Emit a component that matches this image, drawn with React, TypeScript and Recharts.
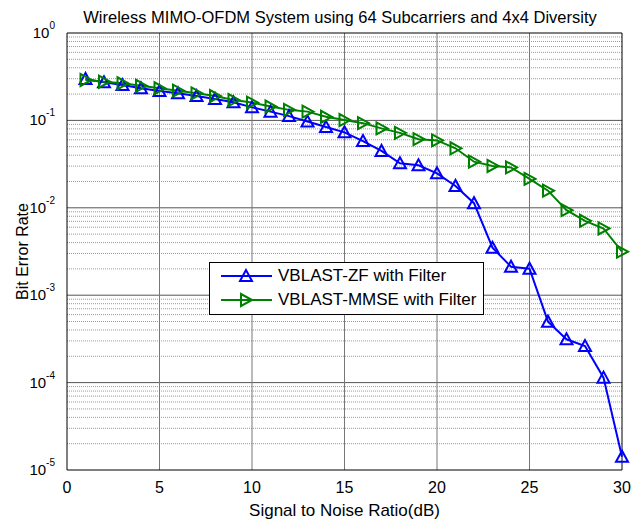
import { LineChart, Line, XAxis, YAxis, ReferenceLine } from "recharts"

const snr = [1, 2, 3, 4, 5, 6, 7, 8, 9, 10, 11, 12, 13, 14, 15, 16, 17, 18, 19, 20, 21, 22, 23, 24, 25, 26, 27, 28, 29, 30]

const zfBer = [
  0.298, 0.273, 0.254, 0.233, 0.217, 0.204, 0.19, 0.176, 0.161, 0.141,
  0.126, 0.112, 0.097, 0.084, 0.073, 0.058, 0.0447, 0.0323, 0.0306, 0.0248,
  0.0178, 0.0113, 0.00349, 0.00212, 0.00201, 0.000498, 0.000313, 0.000262, 0.000114, 0.0000142,
]

const mmseBer = [
  0.29, 0.277, 0.266, 0.249, 0.233, 0.219, 0.204, 0.19, 0.171, 0.16,
  0.144, 0.132, 0.126, 0.11, 0.101, 0.093, 0.081, 0.072, 0.061, 0.059,
  0.048, 0.0337, 0.0301, 0.029, 0.0214, 0.0157, 0.0094, 0.0071, 0.0058, 0.00315,
]

const xTicks = [0, 5, 10, 15, 20, 25, 30]
const yTicks = [1e-5, 1e-4, 1e-3, 1e-2, 1e-1, 1]
const xGrid = [5, 10, 15, 20, 25]
const yMajorGrid = [1e-4, 1e-3, 1e-2, 1e-1]
const yMinorGrid = [-5, -4, -3, -2, -1].flatMap((e) => [2, 3, 4, 5, 6, 7, 8, 9].map((m) => m * Math.pow(10, e)))

const data = snr.map((s, i) => ({ snr: s, zf: zfBer[i], mmse: mmseBer[i] }))

const FONT = "'Liberation Sans', Arial, sans-serif"

const TriUp = ({ cx, cy, color }: any) => (
  <polygon
    points={`${cx},${cy - 6} ${cx - 6},${cy + 5} ${cx + 6},${cy + 5}`}
    fill="none"
    stroke={color}
    strokeWidth={2}
  />
)

const TriRight = ({ cx, cy, color }: any) => (
  <polygon
    points={`${cx + 6},${cy} ${cx - 5},${cy - 6} ${cx - 5},${cy + 6}`}
    fill="none"
    stroke={color}
    strokeWidth={2}
  />
)

const PowTick = ({ x, y, payload }: any) => {
  const exp = Math.round(Math.log10(payload.value))
  return (
    <text x={x} y={y} textAnchor="end" fontFamily={FONT} fill="#000">
      <tspan fontSize={15} dy={5}>10</tspan>
      <tspan fontSize={10} dy={-9}>{exp}</tspan>
    </text>
  )
}

const legendItems = [
  { name: "VBLAST-ZF with Filter", color: "#0000ff", Mark: TriUp },
  { name: "VBLAST-MMSE with Filter", color: "#008000", Mark: TriRight },
]

export default function App() {
  return (
    <div style={{ position: "absolute", top: 0, left: 0, width: 632, height: 519, overflow: "hidden" }}>
      <div
        style={{
          position: "absolute",
          top: 8,
          left: 0,
          width: 632,
          textAlign: "center",
          fontFamily: FONT,
          fontSize: 16.5,
          paddingLeft: 48,
          boxSizing: "border-box",
          zIndex: 2,
        }}
      >
        Wireless MIMO-OFDM System using 64 Subcarriers and 4x4 Diversity
      </div>
      <LineChart
        width={632}
        height={519}
        data={data}
        margin={{ top: 33, right: 10, bottom: 19, left: 17 }}
      >
        {yMinorGrid.map((v) => (
          <ReferenceLine key={"m" + v} y={v} stroke="#999" strokeDasharray="1 1" />
        ))}
        {yMajorGrid.map((v) => (
          <ReferenceLine key={"M" + v} y={v} stroke="#555" />
        ))}
        {xGrid.map((v) => (
          <ReferenceLine key={"x" + v} x={v} stroke="#777" />
        ))}
        <ReferenceLine y={1} stroke="#000" />
        <ReferenceLine x={30} stroke="#000" />
        <XAxis
          dataKey="snr"
          type="number"
          domain={[0, 30]}
          ticks={xTicks}
          stroke="#000"
          tickLine={false}
          tick={{ fill: "#000", fontSize: 16, fontFamily: FONT }}
          tickMargin={6}
          height={30}
          label={{ value: "Signal to Noise Ratio(dB)", position: "insideBottom", offset: -16, fill: "#000", fontSize: 17, fontFamily: FONT }}
        />
        <YAxis
          scale="log"
          domain={[1e-5, 1]}
          ticks={yTicks}
          allowDataOverflow
          stroke="#000"
          tickLine={false}
          tick={<PowTick />}
          tickMargin={6}
          width={50}
          label={{ value: "Bit Error Rate", angle: -90, position: "insideLeft", offset: 5, fill: "#000", fontSize: 16, fontFamily: FONT, style: { textAnchor: "middle" } }}
        />
        <Line
          dataKey="zf"
          name="VBLAST-ZF with Filter"
          stroke="#0000ff"
          strokeWidth={2}
          dot={(p: any) => <TriUp key={"z" + p.index} cx={p.cx} cy={p.cy} color="#0000ff" />}
          isAnimationActive={false}
        />
        <Line
          dataKey="mmse"
          name="VBLAST-MMSE with Filter"
          stroke="#008000"
          strokeWidth={2}
          dot={(p: any) => <TriRight key={"g" + p.index} cx={p.cx} cy={p.cy} color="#008000" />}
          isAnimationActive={false}
        />
      </LineChart>
      <div
        style={{
          position: "absolute",
          left: 209,
          top: 262,
          width: 273,
          height: 51,
          border: "1px solid #000",
          background: "#fff",
          fontFamily: FONT,
          fontSize: 17,
        }}
      >
        {legendItems.map(({ name, color, Mark }, i) => (
          <div key={name} style={{ display: "flex", alignItems: "center", height: 24, marginTop: i === 0 ? 1 : 0 }}>
            <svg width={68} height={24}>
              <line x1={11} y1={12} x2={62} y2={12} stroke={color} strokeWidth={2} />
              <Mark cx={36} cy={12} color={color} />
            </svg>
            <span>{name}</span>
          </div>
        ))}
      </div>
    </div>
  )
}
